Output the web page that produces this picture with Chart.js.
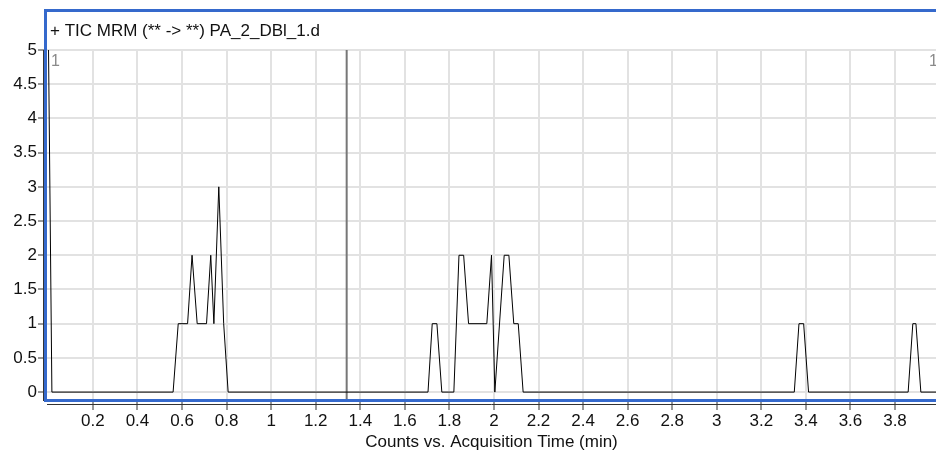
<!DOCTYPE html>
<html>
<head>
<meta charset="utf-8">
<title>TIC MRM PA_2_DBl_1.d</title>
<script src="https://cdn.jsdelivr.net/npm/chart.js@4/dist/chart.umd.min.js"></script>
<style>
  html, body { margin: 0; padding: 0; background: #fff; }
  #wrap { width: 936px; height: 453px; position: relative; overflow: hidden; }
</style>
</head>
<body>
<div id="wrap"><canvas id="tic"></canvas></div>
<script>
// values
const times = [0, 0.016, 0.560, 0.583, 0.625, 0.645, 0.668, 0.710, 0.729, 0.743, 0.765, 0.787, 0.807,
  1.704, 1.723, 1.744, 1.766, 1.820, 1.843, 1.864, 1.886, 1.968, 1.989, 2.004, 2.046, 2.067, 2.089, 2.109, 2.131,
  3.348, 3.369, 3.390, 3.412, 3.859, 3.880, 3.894, 3.916, 3.984];
const counts = [5.3, 0, 0, 1, 1, 2, 1, 1, 2, 1, 3, 1, 0,
  0, 1, 1, 0, 0, 2, 2, 1, 1, 2, 0, 2, 2, 1, 1, 0,
  0, 1, 1, 0, 0, 1, 1, 0, 0];
const markerTime = 1.339;
const xTickValues = [0.2, 0.4, 0.6, 0.8, 1, 1.2, 1.4, 1.6, 1.8, 2, 2.2, 2.4, 2.6, 2.8, 3, 3.2, 3.4, 3.6, 3.8];
const yTickValues = [0, 0.5, 1, 1.5, 2, 2.5, 3, 3.5, 4, 4.5, 5];
const xRange = [-0.006, 3.984];
const yRange = [-0.13, 5];
const plotTitle = '+ TIC MRM (** -> **) PA_2_DBl_1.d';
const axisTitle = 'Counts vs. Acquisition Time (min)';
const cornerLabel = '1';

const FONT = '"Liberation Sans", Arial, sans-serif';

// blue frame, header text, outer axis lines
const framePlugin = {
  id: 'frame',
  afterDraw(chart) {
    const { ctx, chartArea: a } = chart;
    ctx.save();
    ctx.strokeStyle = '#333';
    ctx.lineWidth = 1;
    ctx.beginPath();
    ctx.moveTo(43.5, a.top);
    ctx.lineTo(43.5, a.bottom);
    ctx.moveTo(a.left, 404.5);
    ctx.lineTo(a.right, 404.5);
    ctx.stroke();

    ctx.strokeStyle = '#3569cc';
    ctx.lineWidth = 3;
    ctx.strokeRect(45.5, 10.5, 940, 390);

    ctx.fillStyle = '#111';
    ctx.font = '17px ' + FONT;
    ctx.textBaseline = 'middle';
    ctx.textAlign = 'left';
    ctx.fillText(plotTitle, 50, 31);

    ctx.fillStyle = '#8a8a8a';
    ctx.font = '16px ' + FONT;
    ctx.fillText(cornerLabel, 51, 62);
    ctx.fillText(cornerLabel, 929, 62);
    ctx.restore();
  }
};

new Chart(document.getElementById('tic'), {
  type: 'line',
  data: {
    datasets: [
      {
        data: times.map((t, i) => ({ x: t, y: counts[i] })),
        borderColor: '#000',
        borderWidth: 1,
        pointRadius: 0,
        tension: 0,
        fill: false
      },
      {
        data: [{ x: markerTime, y: yRange[0] }, { x: markerTime, y: yRange[1] }],
        borderColor: '#777',
        borderWidth: 2,
        pointRadius: 0,
        fill: false
      }
    ]
  },
  options: {
    responsive: true,
    maintainAspectRatio: false,
    animation: false,
    layout: { padding: { top: 50, right: 0, bottom: 0, left: 0 } },
    plugins: {
      legend: { display: false },
      tooltip: { enabled: false }
    },
    scales: {
      x: {
        type: 'linear',
        min: xRange[0],
        max: xRange[1],
        afterBuildTicks: s => { s.ticks = xTickValues.map(value => ({ value })); },
        afterFit: s => { s.height = 52; },
        grid: { color: '#e2e2e2', lineWidth: 2, tickColor: '#333', tickLength: 9, tickWidth: 1 },
        border: { display: false },
        ticks: {
          autoSkip: false,
          maxRotation: 0,
          padding: 1,
          color: '#111',
          font: { family: FONT, size: 17 },
          callback: v => String(v)
        },
        title: {
          display: true,
          text: axisTitle,
          color: '#111',
          font: { family: FONT, size: 17 },
          padding: { top: 0, bottom: 0 }
        }
      },
      y: {
        type: 'linear',
        min: yRange[0],
        max: yRange[1],
        afterBuildTicks: s => { s.ticks = yTickValues.map(value => ({ value })); },
        afterFit: s => { s.width = 47; },
        grid: { color: '#e2e2e2', lineWidth: 2, tickColor: '#333', tickLength: 9, tickWidth: 1 },
        border: { display: false },
        ticks: {
          padding: 1,
          color: '#111',
          font: { family: FONT, size: 17 },
          callback: v => String(v)
        }
      }
    }
  },
  plugins: [framePlugin]
});
</script>
</body>
</html>
